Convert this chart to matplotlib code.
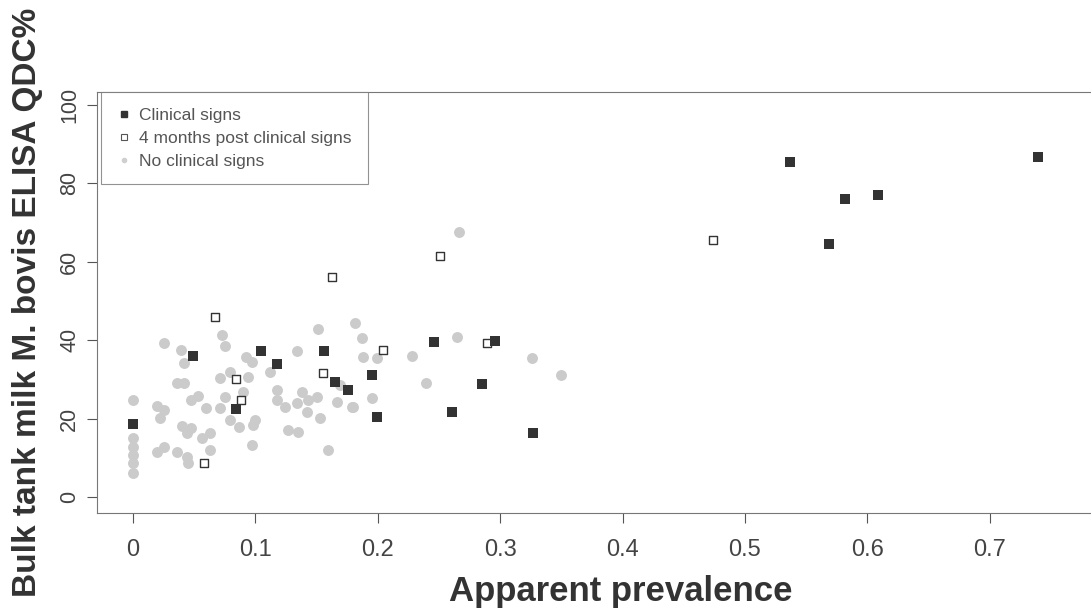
import matplotlib
matplotlib.use("Agg")
import matplotlib.pyplot as plt
from matplotlib.lines import Line2D

# herds with clinical signs
clin_x = [0.0, 0.049, 0.084, 0.105, 0.118, 0.156, 0.165, 0.176, 0.195, 0.199,
          0.246, 0.261, 0.285, 0.296, 0.327, 0.537, 0.569, 0.582, 0.609, 0.739]
clin_y = [18.6, 36.0, 22.4, 37.2, 34.0, 37.2, 29.3, 27.3, 31.1, 20.4,
          39.5, 21.7, 28.8, 39.8, 16.3, 85.5, 64.5, 76.0, 77.0, 86.7]

# same herds, 4 months later
post_x = [0.058, 0.067, 0.084, 0.088, 0.155, 0.163, 0.204, 0.251, 0.289, 0.474]
post_y = [8.7, 45.9, 30.1, 24.7, 31.6, 56.1, 37.5, 61.5, 39.2, 65.6]

# herds without clinical signs
none_x = [0.025, 0.039, 0.042, 0.073, 0.075, 0.036, 0.042, 0.0, 0.020, 0.025,
          0.022, 0.047, 0.053, 0.060, 0.040, 0.047, 0.044, 0.071, 0.079, 0.071,
          0.075, 0.056, 0.063, 0.020, 0.025, 0.036, 0.044, 0.045, 0.063, 0.0,
          0.0, 0.0, 0.0, 0.0, 0.079, 0.151, 0.181, 0.134, 0.092, 0.097,
          0.112, 0.094, 0.090, 0.118, 0.118, 0.124, 0.138, 0.143, 0.150, 0.134,
          0.142, 0.153, 0.167, 0.179, 0.100, 0.098, 0.087, 0.127, 0.135, 0.097,
          0.159, 0.169, 0.187, 0.188, 0.199, 0.228, 0.265, 0.239, 0.195, 0.180,
          0.326, 0.350, 0.266]
none_y = [39.3, 37.5, 34.2, 41.3, 38.5, 29.1, 29.1, 24.7, 23.2, 22.2,
          20.2, 24.7, 25.8, 22.7, 18.1, 17.6, 16.3, 30.4, 31.9, 22.7,
          25.5, 15.1, 16.3, 11.5, 12.8, 11.5, 10.2, 8.7, 12.0, 15.1,
          12.8, 10.7, 8.7, 6.1, 19.6, 42.9, 44.4, 37.2, 35.7, 34.4,
          31.9, 30.6, 26.8, 27.3, 24.7, 23.0, 26.8, 24.7, 25.5, 24.0,
          21.7, 20.2, 24.2, 23.0, 19.6, 18.4, 17.9, 17.1, 16.6, 13.3,
          12.0, 28.6, 40.6, 35.7, 35.5, 36.0, 40.8, 29.1, 25.3, 23.0,
          35.5, 31.1, 67.6]

x_ticks = [0, 0.1, 0.2, 0.3, 0.4, 0.5, 0.6, 0.7]
x_labels = ["0", "0.1", "0.2", "0.3", "0.4", "0.5", "0.6", "0.7"]
y_ticks = [0, 20, 40, 60, 80, 100]

sans = ["Liberation Sans", "DejaVu Sans"]

fig = plt.figure(figsize=(10.91, 6.14), dpi=100)
# plot region runs past the right edge of the figure
ax = fig.add_axes([0.0889, 0.1645, 0.9606, 0.6857])

ax.scatter(none_x, none_y, s=62, marker="o", color="#cbcbcb", linewidths=0, zorder=2)
ax.scatter(post_x, post_y, s=40, marker="s", facecolor="white", edgecolor="#333333",
           linewidths=1.0, zorder=3)
ax.scatter(clin_x, clin_y, s=44, marker="s", color="#333333", linewidths=0, zorder=4)

ax.set_xlim(-0.0294, 0.8268)
ax.set_ylim(-4.08, 103.3)

ax.set_xticks(x_ticks)
ax.set_xticklabels(x_labels, fontfamily=sans, fontsize=17, color="#444444")
ax.set_yticks(y_ticks)
ax.set_yticklabels([str(v) for v in y_ticks], fontfamily=sans, fontsize=15.5,
                   color="#444444", rotation=90, va="center")
ax.tick_params(axis="x", direction="out", length=7, width=0.8, color="#555555", pad=12)
ax.tick_params(axis="y", direction="out", length=7, width=0.8, color="#555555", pad=5)

for sp in ax.spines.values():
    sp.set_color("#777777")
    sp.set_linewidth(0.8)

ax.set_xlabel("Apparent prevalence", fontfamily=sans, fontweight="bold",
              fontsize=25, color="#333333", labelpad=10)
ax.set_ylabel("Bulk tank milk M. bovis ELISA QDC%", fontfamily=sans, fontweight="bold",
              fontsize=24, color="#333333", labelpad=12)

handles = [
    Line2D([], [], linestyle="none", marker="s", markersize=5,
           markerfacecolor="#333333", markeredgecolor="#333333"),
    Line2D([], [], linestyle="none", marker="s", markersize=5,
           markerfacecolor="white", markeredgecolor="#555555", markeredgewidth=0.8),
    Line2D([], [], linestyle="none", marker="o", markersize=3,
           markerfacecolor="#cfcfcf", markeredgecolor="#cfcfcf"),
]
leg = ax.legend(handles, ["Clinical signs", "4 months post clinical signs", "No clinical signs"],
                loc="upper left", bbox_to_anchor=(0.004, 1.0), frameon=True, fancybox=False,
                handlelength=0.8, handletextpad=0.5, borderpad=0.9, labelspacing=0.45,
                borderaxespad=0, prop={"family": sans, "size": 12.5})
leg.get_frame().set_edgecolor("#777777")
leg.get_frame().set_linewidth(0.8)
for t in leg.get_texts():
    t.set_color("#555555")

fig.savefig("out.png", dpi=100)
